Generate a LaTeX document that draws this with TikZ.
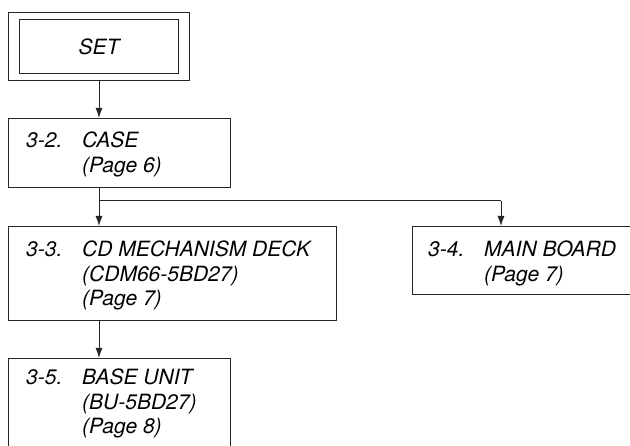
\documentclass[tikz,border=0pt]{standalone}
\usepackage{fontspec}
\setmainfont{TeX Gyre Heros}
\usetikzlibrary{arrows.meta}
\newcommand{\stk}[1]{\begin{tabular}[t]{@{}l@{}}#1\end{tabular}}
\begin{document}
\begin{tikzpicture}[x=1pt,y=-1pt,
  box/.style={draw=black!85,line width=1pt,rectangle,inner sep=0pt,anchor=north west},
  txt/.style={anchor=base west,inner sep=0pt,font=\fontsize{21}{24.5}\selectfont\itshape},
  conn/.style={draw=black!85,line width=1pt,-{Latex[length=10pt,width=7pt]}},
  line/.style={draw=black!85,line width=1pt}]
\clip (0,0) rectangle (630,446);
\fill[white] (0,0) rectangle (630,446);
% SET
\node[box,minimum width=181pt,minimum height=68pt] (setout) at (8,12) {};
\node[box,minimum width=159pt,minimum height=54pt] (setin) at (19,19) {};
\node[inner sep=0pt,font=\fontsize{21}{24.5}\selectfont\itshape] (settxt) at (setin.center) {SET};
% CASE
\node[box,minimum width=222pt,minimum height=69pt] (case) at (8,118) {};
\node[txt] (caseA) at (26,148) {3-2.};
\node[txt] (caseB) at (82,148) {\stk{CASE\\(Page 6)}};
% CD
\node[box,minimum width=328pt,minimum height=94pt] (cd) at (8,226) {};
\node[txt] (cdA) at (26,257) {3-3.};
\node[txt] (cdB) at (82,257) {\stk{CD MECHANISM DECK\\(CDM66-5BD27)\\(Page 7)}};
% MAIN
\node[box,minimum width=240pt,minimum height=68pt] (main) at (412,226) {};
\node[txt] (mainA) at (428,257) {3-4.};
\node[txt] (mainB) at (484,257) {\stk{MAIN BOARD\\(Page 7)}};
% BASE
\node[box,minimum width=222pt,minimum height=120pt] (base) at (8,358) {};
\node[txt] (baseA) at (26,385) {3-5.};
\node[txt] (baseB) at (82,385) {\stk{BASE UNIT\\(BU-5BD27)\\(Page 8)}};
% connectors
\coordinate (j1) at (99,201);
\draw[conn] (setout.south -| 99,0) -- (case.north -| 99,0);
\draw[conn] (case.south -| 99,0) -- (cd.north -| 99,0);
\draw[line] (j1) -- (501,201);
\draw[conn] (501,201) -- (main.north -| 501,0);
\draw[conn] (cd.south -| 99,0) -- (base.north -| 99,0);
\end{tikzpicture}
\end{document}
